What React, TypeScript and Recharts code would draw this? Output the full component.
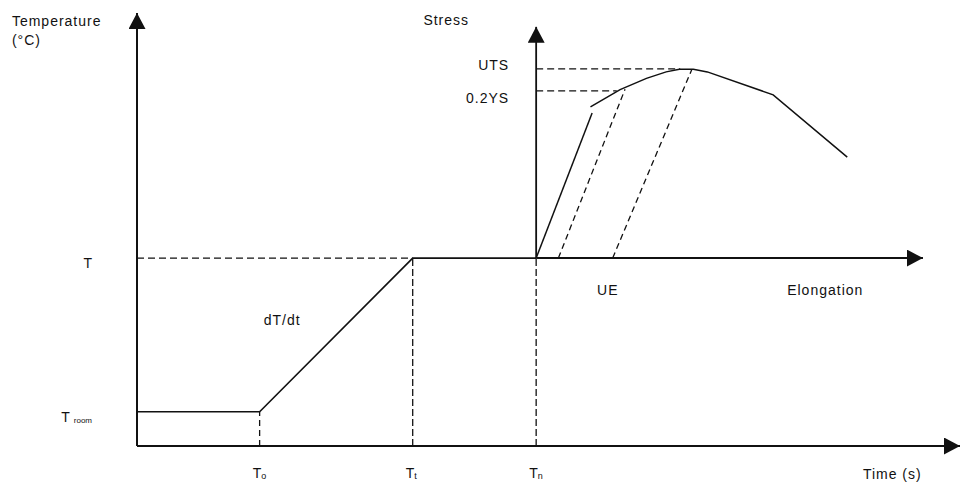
import React from "react";
import {
  ComposedChart,
  Line,
  XAxis,
  YAxis,
  ReferenceDot,
} from "recharts";

type Pt = { x: number; y: number };

// key levels (normalised units, 0-100 on both axes)
const T_ROOM = 7.9;
const T_TEST = 43.4;
const T0 = 14.9;
const Tt = 33.5;
const Tn = 48.5;
const UTS = 87.1;
const YS = 82.0;

// axes of the diagram
const timeAxis: Pt[] = [{ x: 0, y: 0 }, { x: 100, y: 0 }];
const tempAxis: Pt[] = [{ x: 0, y: 0 }, { x: 0, y: 100 }];
const stressAxis: Pt[] = [{ x: Tn, y: T_TEST }, { x: Tn, y: 96.8 }];
const elongationAxis: Pt[] = [{ x: Tn, y: T_TEST }, { x: 95.5, y: T_TEST }];

// temperature history
const temperatureProfile: Pt[] = [
  { x: 0, y: T_ROOM },
  { x: T0, y: T_ROOM },
  { x: Tt, y: T_TEST },
  { x: Tn, y: T_TEST },
];

// stress-strain curve
const elasticPart: Pt[] = [{ x: Tn, y: T_TEST }, { x: 55.3, y: 76.9 }];
const plasticPart: Pt[] = [
  { x: 55.1, y: 78.3 },
  { x: 58.7, y: 82.3 },
  { x: 61.9, y: 84.9 },
  { x: 64.3, y: 86.4 },
  { x: 65.9, y: 87.0 },
  { x: 67.6, y: 87.0 },
  { x: 69.3, y: 86.4 },
  { x: 77.3, y: 81.1 },
  { x: 86.3, y: 66.7 },
];

// unloading lines (dashed)
const ysOffset: Pt[] = [{ x: 51.2, y: T_TEST }, { x: 59.3, y: 82.4 }];
const utsOffset: Pt[] = [{ x: 57.8, y: T_TEST }, { x: 67.4, y: 86.9 }];

// guide lines (dashed)
const tGuide: Pt[] = [{ x: 0, y: T_TEST }, { x: Tt, y: T_TEST }];
const utsGuide: Pt[] = [{ x: Tn, y: UTS }, { x: 66.0, y: UTS }];
const ysGuide: Pt[] = [{ x: Tn, y: YS }, { x: 58.3, y: YS }];
const t0Guide: Pt[] = [{ x: T0, y: 0 }, { x: T0, y: T_ROOM }];
const ttGuide: Pt[] = [{ x: Tt, y: 0 }, { x: Tt, y: T_TEST }];
const tnGuide: Pt[] = [{ x: Tn, y: 0 }, { x: Tn, y: T_TEST }];

// tick labels
const xTicks = [T0, Tt, Tn];
const xTickLabels = [
  { main: "T", sub: "o" },
  { main: "T", sub: "t" },
  { main: "T", sub: "n" },
];
const yTicks = [T_ROOM, T_TEST];
const yTickLabels = [
  { main: "T", sub: "room" },
  { main: "T", sub: "" },
];

// free text
const notes = [
  { x: -15.2, y: 97.0, text: "Temperature" },
  { x: -15.2, y: 92.6, text: "(°C)" },
  { x: 34.8, y: 97.2, text: "Stress" },
  { x: 15.4, y: 27.9, text: "dT/dt" },
  { x: 55.9, y: 34.9, text: "UE" },
  { x: 79.0, y: 34.9, text: "Elongation" },
  { x: 88.2, y: -7.6, text: "Time (s)" },
];

const FONT = "'Liberation Sans', Arial, sans-serif";
const INK = "#111";

function XTick(props: any) {
  const { x, y, payload } = props;
  const i = xTicks.indexOf(payload.value);
  const l = xTickLabels[i];
  if (!l) return null;
  return (
    <text x={x - 7} y={y + 32} fontFamily={FONT} fill={INK} fontSize={14}>
      <tspan>{l.main}</tspan>
      <tspan fontSize={9} dy={1}>{l.sub}</tspan>
    </text>
  );
}

function YTick(props: any) {
  const { x, y, payload } = props;
  const i = yTicks.indexOf(payload.value);
  const l = yTickLabels[i];
  if (!l) return null;
  return (
    <text x={x - 45} y={y + 10} textAnchor="end" fontFamily={FONT} fill={INK} fontSize={14}>
      <tspan>{l.main}</tspan>
      {l.sub && (
        <tspan fontSize={8} dx={4} dy={1}>
          {l.sub}
        </tspan>
      )}
    </text>
  );
}

function Note(props: any) {
  const { viewBox, text, anchor = "start", dx = 0, dy = 0 } = props;
  return (
    <text
      x={viewBox.x + dx}
      y={viewBox.y + dy}
      textAnchor={anchor}
      fontFamily={FONT}
      fontSize={14}
      letterSpacing={1}
      fill={INK}
    >
      {text}
    </text>
  );
}

const solid = (data: Pt[], key: string, width = 1.5, arrow = false) => (
  <Line
    key={key}
    data={data}
    dataKey="y"
    stroke={INK}
    strokeWidth={width}
    dot={false}
    activeDot={false}
    markerEnd={arrow ? "url(#arrowHead)" : undefined}
    isAnimationActive={false}
  />
);

const dashed = (data: Pt[], key: string, dash = "6 4") => (
  <Line
    key={key}
    data={data}
    dataKey="y"
    stroke={INK}
    strokeWidth={1.3}
    strokeDasharray={dash}
    dot={false}
    activeDot={false}
    isAnimationActive={false}
  />
);

export default function App() {
  return (
    <div style={{ position: "absolute", left: 0, top: 0, background: "#fff" }}>
      <ComposedChart
        width={961}
        height={483}
        margin={{ top: 13, right: 1, bottom: 0, left: 0 }}
      >
        <defs>
          <marker
            id="arrowHead"
            markerUnits="userSpaceOnUse"
            markerWidth={18}
            markerHeight={18}
            refX={16}
            refY={8.5}
            orient="auto"
          >
            <path d="M0,0 L16,8.5 L0,17 z" fill={INK} />
          </marker>
        </defs>

        <XAxis
          type="number"
          dataKey="x"
          domain={[0, 100]}
          ticks={xTicks}
          interval={0}
          height={37}
          axisLine={false}
          tickLine={false}
          tickSize={0}
          tickMargin={0}
          tick={<XTick />}
        />
        <YAxis
          type="number"
          dataKey="y"
          domain={[0, 100]}
          ticks={yTicks}
          interval={0}
          width={137}
          axisLine={false}
          tickLine={false}
          tickSize={0}
          tickMargin={0}
          tick={<YTick />}
        />

        {/* dashed guides */}
        {dashed(tGuide, "tGuide", "7 4")}
        {dashed(t0Guide, "t0Guide", "6 4")}
        {dashed(ttGuide, "ttGuide", "7 3")}
        {dashed(tnGuide, "tnGuide", "7 3")}
        {dashed(utsGuide, "utsGuide", "7 4")}
        {dashed(ysGuide, "ysGuide", "7 4")}
        {dashed(ysOffset, "ysOffset", "6 4")}
        {dashed(utsOffset, "utsOffset", "6 4")}

        {/* axes */}
        {solid(timeAxis, "timeAxis", 2, true)}
        {solid(tempAxis, "tempAxis", 2, true)}
        {solid(stressAxis, "stressAxis", 1.8, true)}
        {solid(elongationAxis, "elongationAxis", 2, true)}

        {/* curves */}
        {solid(temperatureProfile, "temperature", 1.6)}
        {solid(elasticPart, "elastic", 1.5)}
        {solid(plasticPart, "plastic", 1.5)}

        {/* UTS / 0.2YS labels on the stress axis */}
        <ReferenceDot
          x={Tn}
          y={UTS}
          r={0}
          ifOverflow="visible"
          label={<Note text="UTS" anchor="end" dx={-27} dy={1} />}
        />
        <ReferenceDot
          x={Tn}
          y={YS}
          r={0}
          ifOverflow="visible"
          label={<Note text="0.2YS" anchor="end" dx={-27} dy={12} />}
        />

        {notes.map((n) => (
          <ReferenceDot
            key={n.text}
            x={n.x}
            y={n.y}
            r={0}
            ifOverflow="visible"
            label={<Note text={n.text} />}
          />
        ))}
      </ComposedChart>
    </div>
  );
}
